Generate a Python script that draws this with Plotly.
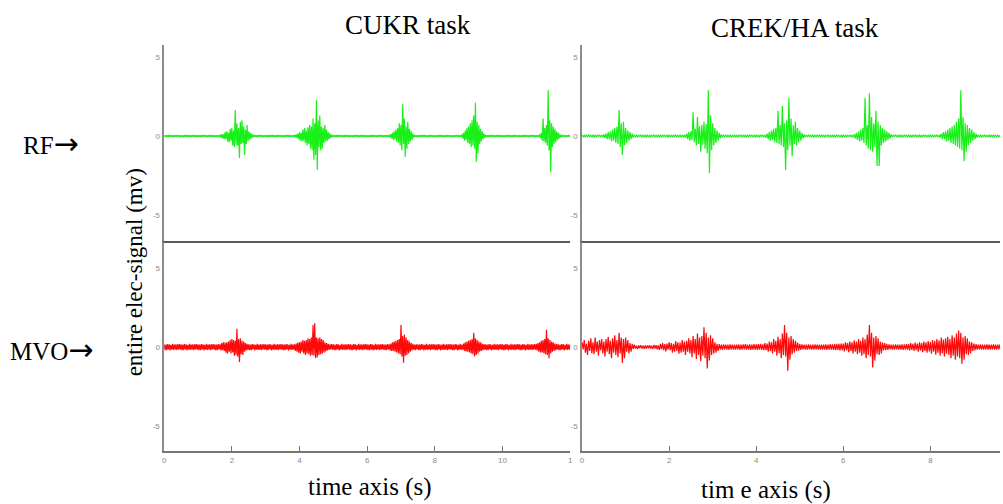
import numpy as np
import plotly.graph_objects as go

# ---------------- data (one sample every 0.025 s) ----------------
DT = 0.025
X_TICKS_LEFT = [0, 2, 4, 6, 8, 10, 12]
X_TICKTEXT_LEFT = ["0", "2", "4", "6", "8", "10", "1"]
X_TICKS_RIGHT = [0, 2, 4, 6, 8]
Y_TICKS = [-5, 0, 5]
Y_TICKTEXT = ["-5", "0", "5"]

# RF, CUKR task (0..12 s), each row = 0.5 s
rf_cukr = [
    0.05, -0.05, 0.04, -0.06, 0.05, -0.04, 0.06, -0.05, 0.04, -0.05, 0.05, -0.06, 0.04, -0.05, 0.06, -0.04, 0.05, -0.05, 0.04, -0.06,
    0.05, -0.05, 0.04, -0.06, 0.05, -0.04, 0.06, -0.05, 0.04, -0.05, 0.05, -0.06, 0.04, -0.05, 0.06, -0.04, 0.05, -0.05, 0.04, -0.06,
    0.05, -0.05, 0.04, -0.06, 0.05, -0.04, 0.06, -0.05, 0.04, -0.05, 0.05, -0.06, 0.04, -0.05, 0.06, -0.04, 0.05, -0.05, 0.04, -0.06,
    0.05, -0.05, 0.04, -0.06, 0.05, -0.04, 0.06, -0.1, 0.12, -0.15, 0.1, -0.2, 0.25, -0.18, 0.3, -0.35, 0.2, -0.4, 0.45, -0.3,
    0.5, -0.6, 0.35, -0.7, 1.65, -0.55, 0.8, -0.6, 0.5, -1.4, 0.9, -0.5, 1.0, -0.45, 0.6, -1.2, 0.4, -0.5, 0.7, -0.35,
    0.3, -0.25, 0.2, -0.15, 0.12, -0.08, 0.06, -0.05, 0.04, -0.06, 0.05, -0.04, 0.06, -0.05, 0.04, -0.05, 0.05, -0.06, 0.04, -0.05,
    0.05, -0.05, 0.04, -0.06, 0.05, -0.04, 0.06, -0.05, 0.04, -0.05, 0.05, -0.06, 0.04, -0.05, 0.06, -0.04, 0.05, -0.05, 0.04, -0.06,
    0.05, -0.05, 0.04, -0.06, 0.05, -0.04, 0.06, -0.05, 0.04, -0.05, 0.05, -0.06, 0.04, -0.05, 0.06, -0.08, 0.1, -0.12, 0.15, -0.2,
    0.25, -0.3, 0.2, -0.35, 0.4, -0.3, 0.5, -0.45, 0.35, -0.6, 0.55, -0.5, 0.7, -0.8, 0.6, -0.9, 1.1, -1.5, 0.8, -1.2,
    2.3, -2.15, 1.0, -0.7, 1.3, -0.9, 0.6, -0.8, 0.5, -0.45, 0.7, -0.35, 0.4, -0.3, 0.25, -0.2, 0.15, -0.12, 0.08, -0.06,
    0.05, -0.05, 0.04, -0.06, 0.05, -0.04, 0.06, -0.05, 0.04, -0.05, 0.05, -0.06, 0.04, -0.05, 0.06, -0.04, 0.05, -0.05, 0.04, -0.06,
    0.05, -0.05, 0.04, -0.06, 0.05, -0.04, 0.06, -0.05, 0.04, -0.05, 0.05, -0.06, 0.04, -0.05, 0.06, -0.04, 0.05, -0.05, 0.04, -0.06,
    0.05, -0.05, 0.04, -0.06, 0.05, -0.04, 0.06, -0.05, 0.04, -0.05, 0.05, -0.06, 0.04, -0.05, 0.06, -0.04, 0.05, -0.05, 0.04, -0.06,
    0.05, -0.05, 0.04, -0.06, 0.05, -0.04, 0.06, -0.1, 0.12, -0.15, 0.2, -0.25, 0.3, -0.2, 0.4, -0.35, 0.5, -0.45, 0.8, -0.6,
    0.7, -0.9, 2.0, -0.5, 1.1, -1.33, 0.6, -0.8, 0.9, -0.5, 0.45, -0.35, 0.3, -0.25, 0.15, -0.1, 0.06, -0.05, 0.04, -0.06,
    0.05, -0.05, 0.04, -0.06, 0.05, -0.04, 0.06, -0.05, 0.04, -0.05, 0.05, -0.06, 0.04, -0.05, 0.06, -0.04, 0.05, -0.05, 0.04, -0.06,
    0.05, -0.05, 0.04, -0.06, 0.05, -0.04, 0.06, -0.05, 0.04, -0.05, 0.05, -0.06, 0.04, -0.05, 0.06, -0.04, 0.05, -0.05, 0.04, -0.06,
    0.05, -0.05, 0.04, -0.06, 0.05, -0.04, 0.06, -0.05, 0.04, -0.05, 0.05, -0.06, 0.1, -0.15, 0.2, -0.3, 0.35, -0.25, 0.5, -0.45,
    0.6, -0.5, 0.8, -0.7, 1.0, -0.6, 1.3, -0.8, 2.1, -1.65, 0.9, -1.1, 0.7, -0.5, 0.45, -0.35, 0.3, -0.2, 0.15, -0.1,
    0.06, -0.05, 0.04, -0.06, 0.05, -0.04, 0.06, -0.05, 0.04, -0.05, 0.05, -0.06, 0.04, -0.05, 0.06, -0.04, 0.05, -0.05, 0.04, -0.06,
    0.05, -0.05, 0.04, -0.06, 0.05, -0.04, 0.06, -0.05, 0.04, -0.05, 0.05, -0.06, 0.04, -0.05, 0.06, -0.04, 0.05, -0.05, 0.04, -0.06,
    0.05, -0.05, 0.04, -0.06, 0.05, -0.04, 0.06, -0.05, 0.04, -0.05, 0.05, -0.06, 0.04, -0.05, 0.06, -0.04, 0.05, -0.05, 0.04, -0.06,
    0.05, -0.05, 0.04, -0.06, 0.1, -0.15, 0.2, -0.3, 1.1, -0.35, 0.5, -0.45, 0.7, -0.6, 2.9, -0.9, 1.0, -2.3, 0.8, -0.7,
    0.6, -0.5, 0.45, -0.4, 0.3, -0.25, 0.2, -0.15, 0.1, -0.08, 0.06, -0.05, 0.04, -0.05, 0.05, -0.06, 0.04, -0.05, 0.06, -0.04,
    0.05,
]

# RF, CREK/HA task (0..9.6 s), each row = 0.5 s
rf_crek = [
    0.05, -0.05, 0.04, -0.06, 0.05, -0.04, 0.06, -0.05, 0.04, -0.05, 0.05, -0.06, 0.04, -0.05, 0.06, -0.04, 0.05, -0.05, 0.04, -0.06,
    0.1, -0.12, 0.15, -0.2, 0.25, -0.2, 0.3, -0.35, 0.4, -0.3, 0.5, -0.45, 0.6, -0.5, 1.65, -0.7, 0.8, -1.2, 0.9, -0.6,
    0.5, -0.45, 0.35, -0.3, 0.25, -0.2, 0.15, -0.1, 0.06, -0.05, 0.04, -0.06, 0.05, -0.04, 0.06, -0.05, 0.04, -0.05, 0.05, -0.06,
    0.05, -0.05, 0.04, -0.06, 0.05, -0.04, 0.06, -0.05, 0.04, -0.05, 0.05, -0.06, 0.04, -0.05, 0.06, -0.04, 0.05, -0.05, 0.04, -0.06,
    0.05, -0.05, 0.04, -0.06, 0.05, -0.04, 0.06, -0.05, 0.04, -0.05, 0.05, -0.06, 0.04, -0.05, 0.06, -0.1, 0.15, -0.2, 0.25, -0.3,
    0.3, -0.25, 1.5, -0.4, 0.45, -0.6, 1.2, -0.5, 0.6, -1.0, 0.7, -0.55, 0.9, -0.8, 0.75, -1.1, 2.9, -2.35, 1.3, -0.9,
    0.8, -0.6, 0.5, -0.45, 0.35, -0.3, 0.2, -0.15, 0.1, -0.06, 0.05, -0.04, 0.06, -0.05, 0.04, -0.05, 0.05, -0.06, 0.04, -0.05,
    0.05, -0.05, 0.04, -0.06, 0.05, -0.04, 0.06, -0.05, 0.04, -0.05, 0.05, -0.06, 0.04, -0.05, 0.06, -0.04, 0.05, -0.05, 0.04, -0.06,
    0.05, -0.05, 0.04, -0.06, 0.05, -0.04, 0.06, -0.05, 0.04, -0.1, 0.15, -0.2, 0.25, -0.3, 0.35, -0.25, 0.45, -0.4, 0.5, -0.45,
    1.6, -0.5, 0.7, -0.6, 1.9, -0.7, 0.8, -2.15, 1.0, -0.9, 2.4, -0.6, 1.1, -1.3, 0.7, -0.5, 0.9, -0.6, 0.5, -0.4,
    0.35, -0.3, 0.2, -0.15, 0.1, -0.06, 0.05, -0.04, 0.06, -0.05, 0.04, -0.05, 0.05, -0.06, 0.04, -0.05, 0.06, -0.04, 0.05, -0.05,
    0.05, -0.05, 0.04, -0.06, 0.05, -0.04, 0.06, -0.05, 0.04, -0.05, 0.05, -0.06, 0.04, -0.05, 0.06, -0.04, 0.05, -0.05, 0.04, -0.06,
    0.05, -0.05, 0.04, -0.06, 0.05, -0.04, 0.06, -0.05, 0.04, -0.05, 0.1, -0.15, 0.2, -0.25, 0.3, -0.35, 0.4, -0.3, 0.5, -0.45,
    2.4, -0.6, 0.7, -0.8, 2.7, -0.9, 1.2, -1.0, 0.8, -0.7, 1.6, -1.9, 0.9, -1.9, 0.7, -0.6, 0.5, -0.45, 0.4, -0.35,
    0.3, -0.25, 0.2, -0.15, 0.1, -0.06, 0.05, -0.04, 0.06, -0.05, 0.04, -0.05, 0.05, -0.06, 0.04, -0.05, 0.06, -0.04, 0.05, -0.05,
    0.05, -0.05, 0.04, -0.06, 0.05, -0.04, 0.06, -0.05, 0.04, -0.05, 0.05, -0.06, 0.04, -0.05, 0.06, -0.04, 0.05, -0.05, 0.04, -0.06,
    0.05, -0.05, 0.04, -0.06, 0.05, -0.04, 0.06, -0.05, 0.04, -0.1, 0.15, -0.2, 0.25, -0.2, 0.3, -0.35, 0.4, -0.3, 0.5, -0.45,
    0.6, -0.5, 0.7, -0.6, 0.9, -0.7, 1.1, -0.8, 2.9, -0.9, 1.2, -1.6, 0.8, -1.0, 0.7, -0.6, 0.5, -0.45, 0.4, -0.3,
    0.25, -0.2, 0.15, -0.1, 0.06, -0.05, 0.04, -0.06, 0.05, -0.04, 0.06, -0.05, 0.04, -0.05, 0.05, -0.06, 0.04, -0.05, 0.06, -0.04,
    0.05, -0.05, 0.04, -0.06, 0.05,
]

# MVO, CUKR task (0..12 s), each row = 0.5 s
mvo_cukr = [
    0.17, -0.19, 0.15, -0.2, 0.19, -0.15, 0.17, -0.21, 0.14, -0.17, 0.2, -0.18, 0.15, -0.17, 0.18, -0.2, 0.17, -0.15, 0.19, -0.17,
    0.17, -0.19, 0.15, -0.2, 0.19, -0.15, 0.17, -0.21, 0.14, -0.17, 0.2, -0.18, 0.15, -0.17, 0.18, -0.2, 0.17, -0.15, 0.19, -0.17,
    0.17, -0.19, 0.15, -0.2, 0.19, -0.15, 0.17, -0.21, 0.14, -0.17, 0.2, -0.18, 0.15, -0.17, 0.18, -0.2, 0.17, -0.15, 0.19, -0.17,
    0.17, -0.19, 0.15, -0.2, 0.19, -0.15, 0.17, -0.22, 0.25, -0.2, 0.3, -0.25, 0.28, -0.35, 0.3, -0.4, 0.35, -0.3, 0.45, -0.4,
    0.5, -0.35, 0.45, -0.55, 0.4, -0.5, 1.15, -0.6, 0.5, -0.95, 0.55, -0.45, 0.4, -0.5, 0.35, -0.3, 0.25, -0.22, 0.2, -0.18,
    0.17, -0.19, 0.15, -0.2, 0.19, -0.15, 0.17, -0.21, 0.14, -0.17, 0.2, -0.18, 0.15, -0.17, 0.18, -0.2, 0.17, -0.15, 0.19, -0.17,
    0.17, -0.19, 0.15, -0.2, 0.19, -0.15, 0.17, -0.21, 0.14, -0.17, 0.2, -0.18, 0.15, -0.17, 0.18, -0.2, 0.17, -0.15, 0.19, -0.17,
    0.17, -0.19, 0.15, -0.2, 0.19, -0.15, 0.17, -0.21, 0.14, -0.17, 0.2, -0.18, 0.15, -0.17, 0.18, -0.25, 0.22, -0.3, 0.28, -0.35,
    0.3, -0.4, 0.35, -0.3, 0.45, -0.4, 0.4, -0.5, 0.45, -0.4, 0.55, -0.45, 0.5, -0.55, 0.6, -0.5, 1.4, -0.55, 1.5, -0.7,
    0.6, -0.65, 0.55, -0.5, 0.6, -0.45, 0.5, -0.4, 0.45, -0.35, 0.3, -0.28, 0.25, -0.22, 0.2, -0.18, 0.17, -0.15, 0.19, -0.17,
    0.17, -0.19, 0.15, -0.2, 0.19, -0.15, 0.17, -0.21, 0.14, -0.17, 0.2, -0.18, 0.15, -0.17, 0.18, -0.2, 0.17, -0.15, 0.19, -0.17,
    0.17, -0.19, 0.15, -0.2, 0.19, -0.15, 0.17, -0.21, 0.14, -0.17, 0.2, -0.18, 0.15, -0.17, 0.18, -0.2, 0.17, -0.15, 0.19, -0.17,
    0.17, -0.19, 0.15, -0.2, 0.19, -0.15, 0.17, -0.21, 0.14, -0.17, 0.2, -0.18, 0.15, -0.17, 0.18, -0.2, 0.17, -0.15, 0.19, -0.17,
    0.17, -0.19, 0.15, -0.2, 0.19, -0.15, 0.17, -0.21, 0.22, -0.25, 0.3, -0.25, 0.35, -0.3, 0.4, -0.35, 0.45, -0.4, 0.5, -0.45,
    1.4, -0.6, 0.7, -1.0, 0.8, -0.55, 0.6, -0.5, 0.45, -0.4, 0.35, -0.3, 0.25, -0.22, 0.2, -0.17, 0.15, -0.19, 0.17, -0.15,
    0.17, -0.19, 0.15, -0.2, 0.19, -0.15, 0.17, -0.21, 0.14, -0.17, 0.2, -0.18, 0.15, -0.17, 0.18, -0.2, 0.17, -0.15, 0.19, -0.17,
    0.17, -0.19, 0.15, -0.2, 0.19, -0.15, 0.17, -0.21, 0.14, -0.17, 0.2, -0.18, 0.15, -0.17, 0.18, -0.2, 0.17, -0.15, 0.19, -0.17,
    0.17, -0.19, 0.15, -0.2, 0.19, -0.15, 0.17, -0.21, 0.14, -0.17, 0.2, -0.18, 0.15, -0.17, 0.22, -0.25, 0.3, -0.28, 0.35, -0.3,
    0.4, -0.35, 0.45, -0.4, 0.5, -0.45, 0.9, -0.6, 0.55, -0.5, 0.45, -0.4, 0.35, -0.3, 0.3, -0.25, 0.22, -0.2, 0.19, -0.17,
    0.17, -0.19, 0.15, -0.2, 0.19, -0.15, 0.17, -0.21, 0.14, -0.17, 0.2, -0.18, 0.15, -0.17, 0.18, -0.2, 0.17, -0.15, 0.19, -0.17,
    0.17, -0.19, 0.15, -0.2, 0.19, -0.15, 0.17, -0.21, 0.14, -0.17, 0.2, -0.18, 0.15, -0.17, 0.18, -0.2, 0.17, -0.15, 0.19, -0.17,
    0.17, -0.19, 0.15, -0.2, 0.19, -0.15, 0.17, -0.21, 0.14, -0.17, 0.2, -0.18, 0.15, -0.17, 0.18, -0.2, 0.17, -0.15, 0.19, -0.17,
    0.2, -0.22, 0.25, -0.3, 0.3, -0.35, 0.4, -0.35, 0.45, -0.4, 0.5, -0.45, 1.1, -0.5, 0.55, -0.7, 0.45, -0.4, 0.35, -0.3,
    0.3, -0.25, 0.22, -0.2, 0.19, -0.17, 0.17, -0.19, 0.15, -0.2, 0.19, -0.15, 0.17, -0.21, 0.14, -0.17, 0.2, -0.18, 0.15, -0.17,
    0.17,
]

# MVO, CREK/HA task (0..9.6 s), each row = 0.5 s
mvo_crek = [
    0.3, -0.15, 0.45, -0.35, 0.2, -0.5, 0.4, -0.25, 0.55, -0.4, 0.3, -0.45, 0.6, -0.3, 0.35, -0.55, 0.45, -0.2, 0.5, -0.4,
    0.35, -0.6, 0.5, -0.3, 0.65, -0.45, 0.4, -0.7, 0.55, -0.35, 0.75, -0.5, 0.45, -0.65, 0.9, -0.4, 0.6, -1.0, 0.5, -0.7,
    0.6, -0.3, 0.45, -0.4, 0.25, -0.3, 0.2, -0.12, 0.15, -0.1, 0.08, -0.12, 0.1, -0.07, 0.12, -0.1, 0.08, -0.11, 0.1, -0.09,
    0.1, -0.08, 0.12, -0.1, 0.09, -0.12, 0.14, -0.1, 0.12, -0.15, 0.1, -0.18, 0.2, -0.14, 0.25, -0.2, 0.18, -0.28, 0.22, -0.17,
    0.3, -0.2, 0.25, -0.35, 0.2, -0.3, 0.38, -0.25, 0.3, -0.42, 0.28, -0.35, 0.45, -0.3, 0.35, -0.5, 0.4, -0.3, 0.55, -0.4,
    0.45, -0.65, 0.7, -0.4, 0.5, -0.75, 0.85, -0.5, 0.6, -0.9, 0.7, -0.55, 1.25, -0.7, 0.9, -1.35, 0.6, -0.85, 0.75, -0.5,
    0.55, -0.4, 0.3, -0.35, 0.2, -0.25, 0.18, -0.17, 0.15, -0.18, 0.17, -0.15, 0.16, -0.17, 0.15, -0.18, 0.17, -0.15, 0.16, -0.17,
    0.15, -0.17, 0.16, -0.15, 0.17, -0.18, 0.15, -0.16, 0.17, -0.15, 0.18, -0.17, 0.15, -0.16, 0.17, -0.18, 0.16, -0.17, 0.18, -0.16,
    0.17, -0.18, 0.18, -0.17, 0.2, -0.18, 0.17, -0.2, 0.25, -0.2, 0.22, -0.3, 0.35, -0.25, 0.3, -0.4, 0.5, -0.3, 0.4, -0.55,
    0.65, -0.4, 0.5, -0.7, 0.85, -0.5, 1.4, -0.6, 0.9, -1.5, 0.6, -0.8, 0.7, -0.45, 0.5, -0.35, 0.4, -0.25, 0.28, -0.22,
    0.2, -0.18, 0.17, -0.15, 0.16, -0.17, 0.15, -0.16, 0.17, -0.15, 0.16, -0.17, 0.15, -0.16, 0.17, -0.15, 0.16, -0.17, 0.15, -0.16,
    0.16, -0.17, 0.15, -0.16, 0.17, -0.18, 0.16, -0.17, 0.18, -0.17, 0.17, -0.18, 0.18, -0.2, 0.2, -0.18, 0.2, -0.22, 0.22, -0.2,
    0.22, -0.28, 0.3, -0.2, 0.25, -0.32, 0.35, -0.25, 0.3, -0.4, 0.42, -0.3, 0.35, -0.45, 0.5, -0.35, 0.4, -0.55, 0.6, -0.45,
    0.5, -0.7, 0.8, -0.5, 1.4, -0.6, 0.9, -1.3, 0.6, -0.85, 0.7, -0.45, 0.55, -0.5, 0.35, -0.4, 0.3, -0.22, 0.25, -0.2,
    0.2, -0.18, 0.17, -0.15, 0.16, -0.17, 0.15, -0.16, 0.17, -0.15, 0.16, -0.17, 0.15, -0.16, 0.17, -0.18, 0.17, -0.16, 0.18, -0.17,
    0.18, -0.22, 0.25, -0.18, 0.2, -0.25, 0.28, -0.2, 0.22, -0.3, 0.3, -0.22, 0.25, -0.32, 0.35, -0.25, 0.3, -0.35, 0.38, -0.28,
    0.32, -0.42, 0.45, -0.3, 0.38, -0.48, 0.5, -0.35, 0.42, -0.55, 0.6, -0.4, 0.48, -0.6, 0.55, -0.42, 0.65, -0.5, 0.5, -0.7,
    0.75, -0.55, 0.6, -0.8, 0.85, -0.6, 1.05, -0.7, 0.9, -1.05, 0.6, -0.8, 0.7, -0.45, 0.55, -0.5, 0.35, -0.4, 0.3, -0.25,
    0.22, -0.2, 0.18, -0.17, 0.16, -0.15, 0.17, -0.16, 0.15, -0.17, 0.16, -0.15, 0.17, -0.16, 0.15, -0.17, 0.16, -0.15, 0.17, -0.16,
    0.15, -0.17, 0.16, -0.15, 0.17,
]

# ---------------- layout helpers ----------------
W, H = 1003, 504


def px(x):
    return x / W


def py(y):
    return 1 - y / H


GREEN = "#19f019"
RED = "#ff0a0a"
AX = "#8c8c8c"
SEP = "#5a5a5a"
SERIF = "Liberation Serif, Times New Roman, serif"
TICKFONT = dict(family="Liberation Sans, Arial, sans-serif", size=8, color="#8a8a8a")
LW = 1.2

fig = go.Figure()


def times(vals):
    return np.arange(len(vals)) * DT


fig.add_trace(go.Scatter(x=times(rf_cukr), y=rf_cukr, mode="lines",
                         line=dict(color=GREEN, width=LW), xaxis="x", yaxis="y", hoverinfo="skip"))
fig.add_trace(go.Scatter(x=times(rf_crek), y=rf_crek, mode="lines",
                         line=dict(color=GREEN, width=LW), xaxis="x2", yaxis="y2", hoverinfo="skip"))
fig.add_trace(go.Scatter(x=times(mvo_cukr), y=mvo_cukr, mode="lines",
                         line=dict(color=RED, width=LW), xaxis="x3", yaxis="y3", hoverinfo="skip"))
fig.add_trace(go.Scatter(x=times(mvo_crek), y=mvo_crek, mode="lines",
                         line=dict(color=RED, width=LW), xaxis="x4", yaxis="y4", hoverinfo="skip"))

LEFT_DOM = [px(163), px(571)]
RIGHT_DOM = [px(583), 1.0]
TOP_DOM = [py(241), py(45)]
BOT_DOM = [py(451), py(242)]

top_x = dict(showline=True, linecolor=SEP, linewidth=2, showticklabels=False, ticks="",
             showgrid=False, zeroline=False)
bot_x = dict(showline=True, linecolor="#777", linewidth=2, ticks="inside", ticklen=5,
             tickcolor="#777", tickwidth=1, tickfont=TICKFONT, showgrid=False, zeroline=False)
yax = dict(showline=True, linecolor=AX, linewidth=1.5, tickvals=Y_TICKS, ticktext=Y_TICKTEXT,
           ticks="", tickfont=TICKFONT, showgrid=False, zeroline=False, ticklabelstandoff=1)

fig.update_layout(
    width=W, height=H,
    margin=dict(l=0, r=0, t=0, b=0),
    paper_bgcolor="white", plot_bgcolor="white",
    showlegend=False,
    xaxis=dict(domain=LEFT_DOM, range=[0, 12], anchor="y", **top_x),
    yaxis=dict(domain=TOP_DOM, range=[-6.65, 5.76], anchor="x", **yax),
    xaxis2=dict(domain=RIGHT_DOM, range=[0, 9.6], anchor="y2", **top_x),
    yaxis2=dict(domain=TOP_DOM, range=[-6.65, 5.76], anchor="x2", **yax),
    xaxis3=dict(domain=LEFT_DOM, range=[0, 12], anchor="y3", tickvals=X_TICKS_LEFT,
                ticktext=X_TICKTEXT_LEFT, **bot_x),
    yaxis3=dict(domain=BOT_DOM, range=[-6.58, 6.65], anchor="x3", **yax),
    xaxis4=dict(domain=RIGHT_DOM, range=[0, 9.6], anchor="y4", tickvals=X_TICKS_RIGHT, **bot_x),
    yaxis4=dict(domain=BOT_DOM, range=[-6.58, 6.65], anchor="x4", **yax),
)


def label(text, x, y, size, angle=0):
    fig.add_annotation(text=text, x=px(x), y=py(y), xref="paper", yref="paper",
                       xanchor="center", yanchor="middle", showarrow=False, textangle=angle,
                       font=dict(family=SERIF, size=size, color="black"))


ARROW = "<span style='font-family:DejaVu Sans;font-size:30px'>→</span>"
label("CUKR task", 408, 25, 27)
label("CREK/HA task", 797, 28, 27)
label("RF" + ARROW, 49, 143, 25)
label("MVO" + ARROW, 50, 349, 25)
label("entire elec-signal (mv)", 133, 272, 23, angle=-90)
label("time axis (s)", 370, 487, 25)
label("tim e axis (s)", 768, 490, 25)

fig.write_html("out.html", config={"displayModeBar": False},
               post_script="document.body.style.margin='0';")
